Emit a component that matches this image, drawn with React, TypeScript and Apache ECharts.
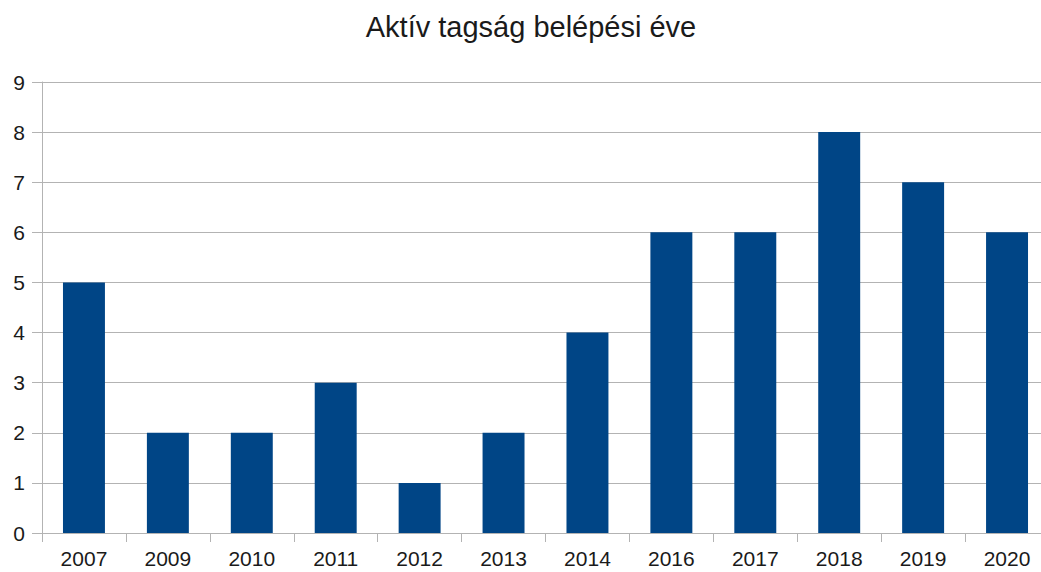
import React, { useEffect, useRef } from "react";
import * as echarts from "echarts";

const titleText = "Aktív tagság belépési éve";
const categories = ["2007", "2009", "2010", "2011", "2012", "2013", "2014", "2016", "2017", "2018", "2019", "2020"];
const values = [5, 2, 2, 3, 1, 2, 4, 6, 6, 8, 7, 6];

export default function App() {
  const ref = useRef<HTMLDivElement>(null);
  useEffect(() => {
    if (!ref.current) return;
    const chart = echarts.init(ref.current, null, { renderer: "svg" });
    chart.setOption({
      animation: false,
      backgroundColor: "#ffffff",
      title: {
        text: titleText,
        left: 526,
        textAlign: "center",
        top: 7,
        textStyle: { fontFamily: "Liberation Sans", fontSize: 29, fontWeight: "normal", color: "#1a1a1a" },
      },
      grid: { left: 42, top: 82, bottom: 39, right: 1, containLabel: false },
      xAxis: {
        type: "category",
        data: categories,
        boundaryGap: true,
        axisLine: { lineStyle: { color: "#b3b3b3", width: 1 } },
        axisTick: { show: true, length: 9, lineStyle: { color: "#b3b3b3" } },
        axisLabel: { fontFamily: "Liberation Sans", fontSize: 21, color: "#1a1a1a", margin: 15 },
      },
      yAxis: {
        type: "value",
        min: 0,
        max: 9,
        interval: 1,
        axisLine: { show: true, lineStyle: { color: "#b3b3b3", width: 1 } },
        axisTick: { show: true, length: 10, lineStyle: { color: "#b3b3b3" } },
        splitLine: { lineStyle: { color: "#b3b3b3", width: 1 } },
        axisLabel: { fontFamily: "Liberation Sans", fontSize: 21, color: "#1a1a1a", margin: 17 },
      },
      series: [
        {
          type: "bar",
          data: values,
          barWidth: "50%",
          itemStyle: { color: "#004586" },
        },
      ],
    });
    return () => chart.dispose();
  }, []);
  return <div ref={ref} style={{ position: "absolute", left: 0, top: 0, width: 1050, height: 572 }} />;
}
